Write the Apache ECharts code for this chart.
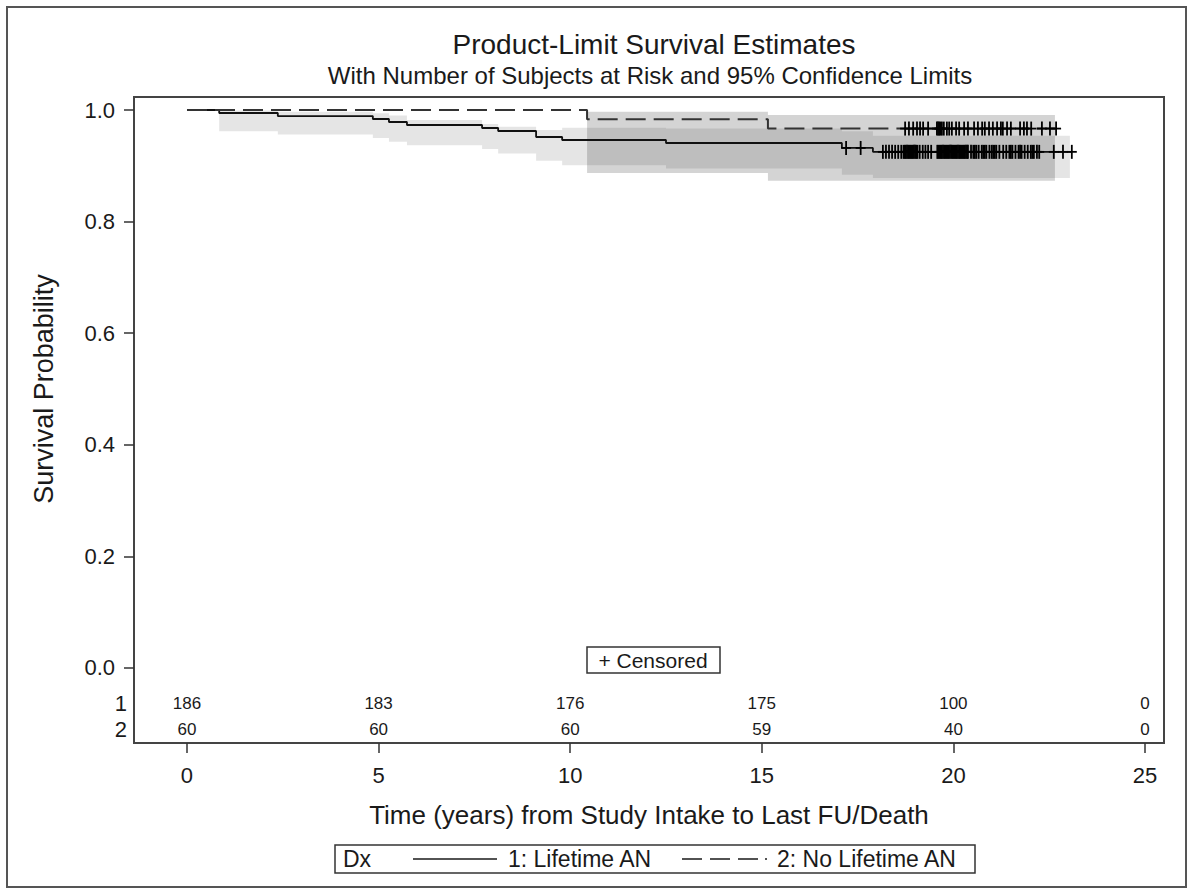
<!DOCTYPE html>
<html><head><meta charset="utf-8">
<script src="https://cdn.jsdelivr.net/npm/echarts@6/dist/echarts.min.js"></script>
<style>html,body{margin:0;padding:0;background:#fff}#c{width:1193px;height:895px}</style>
</head><body><div id="c"></div>
<script>
// ---------- data ----------
const xTicks = [0, 5, 10, 15, 20, 25];
const yTicks = [0, 0.2, 0.4, 0.6, 0.8, 1.0];
const groupLabels = ['1', '2'];
const atRisk1 = [186, 183, 176, 175, 100, 0];
const atRisk2 = [60, 60, 60, 59, 40, 0];

const km1Time = [0, 0.84, 2.37, 4.85, 5.27, 5.74, 7.70, 8.12, 9.11, 9.79, 12.50, 17.09, 17.90, 23.09];
const km1Surv = [1.0, 0.9946, 0.9892, 0.9839, 0.9785, 0.9731, 0.9677, 0.9624, 0.9516, 0.9462, 0.9409, 0.932, 0.925, 0.925];
const km2Time = [0, 10.44, 15.16, 22.68];
const km2Surv = [1.0, 0.9833, 0.9667, 0.9667];

const band1Time  = [0.84, 2.37, 4.85, 5.27, 5.74, 7.70, 8.12, 9.11, 9.79, 12.50, 17.09, 17.90, 23.04];
const band1Lower = [0.962, 0.956, 0.950, 0.943, 0.937, 0.930, 0.922, 0.909, 0.901, 0.895, 0.884, 0.878];
const band1Upper = [0.999, 0.997, 0.994, 0.990, 0.982, 0.975, 0.970, 0.964, 0.968, 0.967, 0.962, 0.954];
const band2Time  = [10.44, 15.16, 22.65];
const band2Lower = [0.887, 0.873];
const band2Upper = [0.997, 0.991];

const cens1 = [17.20, 17.58, 18.16, 18.24, 18.32, 18.40, 18.48, 18.56, 18.64, 18.70, 18.73, 18.76, 18.79, 18.82, 18.85, 18.88, 18.91, 18.94, 18.97, 19.00, 19.03, 19.06, 19.12, 19.20, 19.27, 19.34, 19.42, 19.58, 19.61, 19.64, 19.67, 19.70, 19.73, 19.76, 19.79, 19.82, 19.85, 19.88, 19.91, 19.94, 19.97, 20.00, 20.03, 20.06, 20.09, 20.12, 20.15, 20.18, 20.21, 20.24, 20.27, 20.30, 20.33, 20.36, 20.38, 20.46, 20.52, 20.56, 20.60, 20.66, 20.74, 20.78, 20.82, 20.86, 20.94, 21.00, 21.04, 21.08, 21.12, 21.20, 21.30, 21.38, 21.46, 21.50, 21.54, 21.62, 21.70, 21.74, 21.78, 21.86, 21.94, 22.02, 22.06, 22.10, 22.18, 22.24, 22.62, 22.86, 23.09];
const cens2 = [18.74, 18.84, 18.95, 19.05, 19.13, 19.21, 19.34, 19.57, 19.60, 19.63, 19.66, 19.70, 19.75, 19.83, 19.89, 19.96, 20.07, 20.15, 20.28, 20.38, 20.54, 20.64, 20.75, 20.82, 20.93, 21.03, 21.14, 21.24, 21.29, 21.40, 21.50, 21.74, 21.84, 21.92, 22.03, 22.31, 22.52, 22.68];

// ---------- helpers ----------
const FONT = '"Liberation Sans", Arial, sans-serif';
const TXT = '#1a1a1a';
const rowY = [-0.0645, -0.1111];
function survAt(times, surv, t) { let s = surv[0]; for (let i = 0; i < times.length; i++) { if (times[i] <= t) s = surv[i]; } return s; }
function zip(a, b) { return a.map((v, i) => [v, b[i]]); }
function bandSeries(times, lo, hi, color) {
  return {
    type: 'custom', silent: true, z: 1, data: [[0]],
    renderItem: function (params, api) {
      const pts = [];
      for (let i = 0; i < hi.length; i++) { pts.push(api.coord([times[i], hi[i]])); pts.push(api.coord([times[i + 1], hi[i]])); }
      for (let i = lo.length - 1; i >= 0; i--) { pts.push(api.coord([times[i + 1], lo[i]])); pts.push(api.coord([times[i], lo[i]])); }
      return { type: 'polygon', shape: { points: pts }, style: { fill: color, stroke: null } };
    }
  };
}
function censorSeries(times, kmT, kmS) {
  return {
    type: 'custom', silent: true, z: 5,
    data: times.map(t => [t, survAt(kmT, kmS, t)]),
    renderItem: function (params, api) {
      const p = api.coord([api.value(0), api.value(1)]);
      const st = { stroke: '#000', lineWidth: 1.8 };
      return { type: 'group', children: [
        { type: 'line', shape: { x1: p[0], y1: p[1] - 7, x2: p[0], y2: p[1] + 7 }, style: st },
        { type: 'line', shape: { x1: p[0] - 5, y1: p[1], x2: p[0] + 5, y2: p[1] }, style: st }
      ] };
    }
  };
}
function riskSeries(vals, yv) {
  return {
    type: 'custom', silent: true, z: 5,
    data: xTicks.map((x, i) => [x, yv, vals[i]]),
    renderItem: function (params, api) {
      const p = api.coord([api.value(0), api.value(1)]);
      return { type: 'text', x: p[0], y: p[1], style: { text: String(api.value(2)), align: 'center', verticalAlign: 'middle', textAlign: 'center', textVerticalAlign: 'middle', fontSize: 17, fontFamily: FONT, fill: TXT } };
    }
  };
}

const chart = echarts.init(document.getElementById('c'), null, { renderer: 'svg', width: 1193, height: 895 });
const yMin = -0.13441, yMax = 1.0233;
chart.setOption({
  animation: false,
  backgroundColor: '#ffffff',
  title: [
    { text: 'Product-Limit Survival Estimates', left: 649, top: 25, textAlign: 'center', textStyle: { fontSize: 28, fontWeight: 'normal', fontFamily: FONT, color: TXT } },
    { text: 'With Number of Subjects at Risk and 95% Confidence Limits', left: 645, top: 58, textAlign: 'center', textStyle: { fontSize: 24, fontWeight: 'normal', fontFamily: FONT, color: TXT } }
  ],
  grid: { left: 134, right: 29, top: 97, bottom: 152, show: true, borderColor: '#444', borderWidth: 2, backgroundColor: 'transparent' },
  xAxis: {
    type: 'value', min: -1.383, max: 25.496,
    axisLine: { show: false, onZero: false }, splitLine: { show: false },
    axisTick: { show: true, customValues: xTicks, length: 10, lineStyle: { color: '#333', width: 1.5 } },
    axisLabel: { customValues: xTicks, margin: 21, fontSize: 22, fontFamily: FONT, color: TXT },
    name: 'Time (years) from Study Intake to Last FU/Death', nameLocation: 'middle', nameGap: 59,
    nameTextStyle: { fontSize: 26, fontFamily: FONT, color: TXT }
  },
  yAxis: [
    {
      type: 'value', min: yMin, max: yMax,
      axisLine: { show: false, onZero: false }, splitLine: { show: false },
      axisTick: { show: true, customValues: yTicks, length: 10, lineStyle: { color: '#333', width: 1.5 } },
      axisLabel: { customValues: yTicks, margin: 19, fontSize: 22, fontFamily: FONT, color: TXT, formatter: v => Number(v).toFixed(1) }
    },
    {
      type: 'value', min: yMin, max: yMax, position: 'left',
      axisLine: { show: false, onZero: false }, splitLine: { show: false }, axisTick: { show: false },
      axisLabel: { customValues: rowY, margin: 7, fontSize: 22, fontFamily: FONT, color: TXT, formatter: v => (v > -0.09 ? groupLabels[0] : groupLabels[1]) }
    }
  ],
  series: [
    bandSeries(band1Time, band1Lower, band1Upper, 'rgba(0,0,0,0.10)'),
    bandSeries(band2Time, band2Lower, band2Upper, 'rgba(0,0,0,0.17)'),
    { type: 'line', step: 'end', showSymbol: false, silent: true, z: 3, data: zip(km1Time, km1Surv), lineStyle: { color: '#111', width: 1.8 } },
    { type: 'line', step: 'end', showSymbol: false, silent: true, z: 3, data: zip(km2Time, km2Surv), lineStyle: { color: '#333', width: 2, type: [20, 8] } },
    censorSeries(cens1, km1Time, km1Surv),
    censorSeries(cens2, km2Time, km2Surv),
    riskSeries(atRisk1, rowY[0]),
    riskSeries(atRisk2, rowY[1])
  ],
  graphic: [
    { type: 'rect', shape: { x: 7, y: 7, width: 1179, height: 880 }, style: { fill: null, stroke: '#555', lineWidth: 2 } },
    { type: 'text', x: 44, y: 389, rotation: Math.PI / 2, style: { text: 'Survival Probability', align: 'center', verticalAlign: 'middle', fontSize: 27, fontFamily: FONT, fill: TXT } },
    { type: 'rect', shape: { x: 587, y: 647, width: 133, height: 26 }, style: { fill: '#fff', stroke: '#333', lineWidth: 1.5 } },
    { type: 'text', x: 653, y: 660, style: { text: '+ Censored', align: 'center', verticalAlign: 'middle', fontSize: 21, fontFamily: FONT, fill: TXT } },
    { type: 'rect', shape: { x: 335, y: 845, width: 640, height: 28 }, style: { fill: '#fff', stroke: '#333', lineWidth: 1.5 } },
    { type: 'text', x: 343, y: 859, style: { text: 'Dx', align: 'left', verticalAlign: 'middle', fontSize: 23, fontFamily: FONT, fill: TXT } },
    { type: 'line', shape: { x1: 413, y1: 859, x2: 497, y2: 859 }, style: { stroke: '#1a1a1a', lineWidth: 1.5 } },
    { type: 'text', x: 508, y: 859, style: { text: '1: Lifetime AN', align: 'left', verticalAlign: 'middle', fontSize: 23, fontFamily: FONT, fill: TXT } },
    { type: 'line', shape: { x1: 682, y1: 859, x2: 760, y2: 859 }, style: { stroke: '#1a1a1a', lineWidth: 1.5, lineDash: [20, 8] } },
    { type: 'line', shape: { x1: 765, y1: 859, x2: 767, y2: 859 }, style: { stroke: '#1a1a1a', lineWidth: 1.5 } },
    { type: 'text', x: 777, y: 859, style: { text: '2: No Lifetime AN', align: 'left', verticalAlign: 'middle', fontSize: 23, fontFamily: FONT, fill: TXT } }
  ]
});
</script></body></html>
